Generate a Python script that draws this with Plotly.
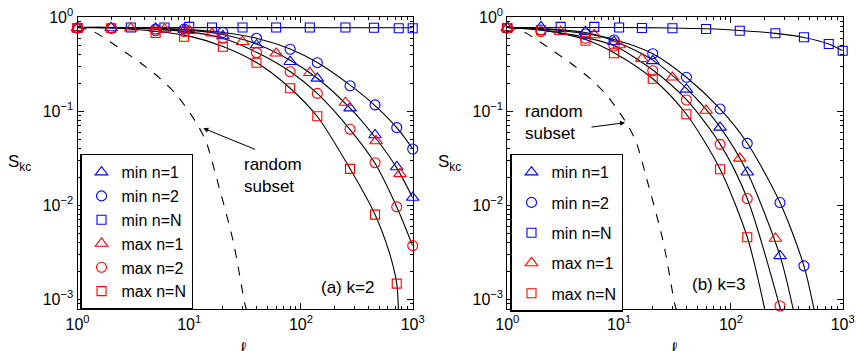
import plotly.graph_objects as go

# ---------------- data ----------------
# panel (a) k=2
l_min_a = [1, 2, 5, 9, 20, 40, 80, 140, 275, 460, 720, 1000]
l_max_a = [1, 3, 6, 10, 16, 30, 60, 120, 250, 470, 770]
l_sq = [1, 3, 6, 10, 16, 30, 60, 120, 250, 450, 750, 1000]

min1_a = [0.77, 0.77, 0.76, 0.74, 0.633, 0.507, 0.337, 0.224, 0.108, 0.056, 0.0256, 0.0121]
min2_a = [0.77, 0.77, 0.75, 0.75, 0.692, 0.598, 0.457, 0.329, 0.187, 0.117, 0.067, 0.0397]
minN_a = [0.77, 0.78, 0.78, 0.79, 0.78, 0.78, 0.78, 0.78, 0.78, 0.775, 0.765, 0.765]
max1_a = [0.77, 0.764, 0.745, 0.72, 0.676, 0.55, 0.414, 0.257, 0.124, 0.0484, 0.0216]
max2_a = [0.77, 0.764, 0.72, 0.703, 0.598, 0.42, 0.264, 0.155, 0.0645, 0.0284, 0.00962, 0.00373]
maxN_a = [0.77, 0.764, 0.681, 0.622, 0.487, 0.329, 0.176, 0.0885, 0.0244, 0.00797, 0.00147]

# fitted curves, panel (a)
fit_l_a = [1, 2, 5, 10, 20, 40, 80, 140, 275, 460, 720, 1000]
fitA_a = [0.78, 0.78, 0.765, 0.74, 0.69, 0.60, 0.46, 0.33, 0.19, 0.115, 0.067, 0.040]
fitB_a = [0.78, 0.78, 0.76, 0.73, 0.655, 0.52, 0.35, 0.225, 0.108, 0.053, 0.025, 0.012]
fitC_a = [0.78, 0.775, 0.745, 0.70, 0.60, 0.425, 0.265, 0.155, 0.064, 0.028, 0.0096, 0.0037]
fitD_l_a = [1, 2, 5, 10, 20, 40, 80, 140, 275, 460, 620, 720, 745]
fitD_a = [0.78, 0.77, 0.71, 0.63, 0.49, 0.33, 0.176, 0.088, 0.0245, 0.0080, 0.0031, 0.00147, 0.00078]
fitH_l_a = [1, 1000]
fitH_a = [0.78, 0.775]

# panel (b) k=3
l_min_b = [1, 2, 5, 9, 20, 40, 80, 140, 275, 450]
l_max_b = [1, 3, 6, 10, 16, 30, 60, 120, 250]

min1_b = [0.77, 0.79, 0.703, 0.55, 0.344, 0.171, 0.0675, 0.0225, 0.0029]
min2_b = [0.77, 0.733, 0.665, 0.573, 0.41, 0.23, 0.106, 0.0456, 0.0107, 0.00227]
minN_b = [0.77, 0.79, 0.79, 0.78, 0.77, 0.765, 0.75, 0.72, 0.676, 0.613, 0.52, 0.44]
max1_b = [0.77, 0.703, 0.648, 0.507, 0.362, 0.23, 0.102, 0.0316, 0.00444]
max2_b = [0.77, 0.703, 0.598, 0.495, 0.27, 0.132, 0.0445, 0.0118, 0.00085]
maxN_b = [0.77, 0.733, 0.564, 0.414, 0.222, 0.093, 0.0242, 0.00458]

# fitted curves, panel (b)
fitA_l_b = [1, 2, 5, 9, 20, 40, 80, 140, 275, 450, 554]
fitA_b = [0.78, 0.75, 0.67, 0.58, 0.41, 0.23, 0.106, 0.046, 0.0107, 0.00227, 0.00078]
fitB_l_b = [1, 2, 5, 9, 20, 40, 80, 140, 275, 361]
fitB_b = [0.78, 0.76, 0.69, 0.56, 0.35, 0.175, 0.068, 0.0225, 0.0029, 0.00078]
fitC_l_b = [1, 2, 5, 9, 20, 40, 80, 140, 278]
fitC_b = [0.78, 0.73, 0.61, 0.50, 0.275, 0.133, 0.045, 0.0118, 0.00078]
fitD_l_b = [1, 2, 5, 9, 20, 40, 80, 140, 201]
fitD_b = [0.78, 0.74, 0.58, 0.42, 0.222, 0.093, 0.0242, 0.0046, 0.00078]
fitH_l_b = [1, 10, 30, 60, 120, 250, 450, 750, 1000]
fitH_b = [0.78, 0.78, 0.77, 0.755, 0.725, 0.675, 0.61, 0.52, 0.44]

# random subset (dashed), same in both panels
rand_l = [1, 1.34, 1.95, 2.76, 3.88, 5.48, 7.73, 10.2, 12.2, 14.3, 17.6, 24.8, 31.6, 32.5]
rand_s = [0.78, 0.72, 0.55, 0.414, 0.311, 0.224, 0.149, 0.0952, 0.068, 0.046, 0.0194, 0.0041, 0.00087, 0.00078]

x_ticks = [1, 10, 100, 1000]
x_ticktext = ["10<sup>0</sup>", "10<sup>1</sup>", "10<sup>2</sup>", "10<sup>3</sup>"]
y_ticks = [1, 0.1, 0.01, 0.001]
y_ticktext = ["10<sup>0</sup>", "10<sup>\u22121</sup>", "10<sup>\u22122</sup>", "10<sup>\u22123</sup>"]

# ---------------- figure ----------------
W, H = 856, 351
FONT = "Liberation Sans, Arial, Helvetica, sans-serif"
BLUE, RED = "#0000ff", "#ff0000"

def px(x):
    return x / W

def py(y):
    return 1 - y / H

fig = go.Figure()

def curve(xs, ys, xa, ya, dash="solid"):
    fig.add_trace(go.Scatter(x=xs, y=ys, mode="lines", xaxis=xa, yaxis=ya,
                             line=dict(color="black", width=1.1, dash=dash, shape="spline", smoothing=0.8),
                             showlegend=False, hoverinfo="skip"))

def marks(xs, ys, xa, ya, name, sym, color, size, legend, show=True, group=None):
    fig.add_trace(go.Scatter(x=xs, y=ys, mode="markers", xaxis=xa, yaxis=ya, name=name,
                             marker=dict(symbol=sym, size=size, color=color,
                                         line=dict(color=color, width=1.1)),
                             cliponaxis=False, legend=legend, showlegend=show,
                             legendgroup=group))

# panel (a)
curve(fitH_l_a, fitH_a, "x", "y")
curve(fit_l_a, fitA_a, "x", "y")
curve(fit_l_a, fitB_a, "x", "y")
curve(fit_l_a, fitC_a, "x", "y")
curve(fitD_l_a, fitD_a, "x", "y")
curve(rand_l, rand_s, "x", "y", dash="dash")
marks(l_min_a, min1_a, "x", "y", "min n=1", "triangle-up-open", BLUE, 11, "legend")
marks(l_min_a, min2_a, "x", "y", "min n=2", "circle-open", BLUE, 10, "legend")
marks(l_sq, minN_a, "x", "y", "min n=N", "square-open", BLUE, 9, "legend")
marks(l_max_a, max1_a, "x", "y", "max n=1", "triangle-up-open", RED, 11, "legend")
marks(l_min_a, max2_a, "x", "y", "max n=2", "circle-open", RED, 10, "legend")
marks(l_min_a[:11], maxN_a, "x", "y", "max n=N", "square-open", RED, 9, "legend")

# panel (b)
curve(fitH_l_b, fitH_b, "x2", "y2")
curve(fitA_l_b, fitA_b, "x2", "y2")
curve(fitB_l_b, fitB_b, "x2", "y2")
curve(fitC_l_b, fitC_b, "x2", "y2")
curve(fitD_l_b, fitD_b, "x2", "y2")
curve(rand_l, rand_s, "x2", "y2", dash="dash")
marks(l_min_b[:9], min1_b, "x2", "y2", "min n=1", "triangle-up-open", BLUE, 11, "legend2", group="b1")
marks(l_min_b, min2_b, "x2", "y2", "min n=2", "circle-open", BLUE, 10, "legend2", group="b2")
marks(l_sq, minN_b, "x2", "y2", "min n=N", "square-open", BLUE, 9, "legend2", group="b3")
marks(l_max_b, max1_b, "x2", "y2", "max n=1", "triangle-up-open", RED, 11, "legend2", group="b4")
marks(l_min_b[:9], max2_b, "x2", "y2", "max n=2", "circle-open", RED, 10, "legend2", show=False, group="b5")
marks(l_min_b[:8], maxN_b, "x2", "y2", "max n=N", "square-open", RED, 9, "legend2", group="b6")

minor_x = [m * d for d in (1, 10, 100) for m in range(2, 10)]
minor_y = [m * d for d in (0.0001, 0.001, 0.01, 0.1) for m in range(2, 10)]

def xax(dom):
    return dict(type="log", domain=dom, range=[0, 3], showline=True, linecolor="black", linewidth=1.1,
                mirror="allticks", ticks="inside", ticklen=6, tickcolor="black", tickwidth=1,
                showgrid=False, zeroline=False, tickvals=x_ticks, ticktext=x_ticktext, automargin=False,
                tickfont=dict(size=16, color="black", family=FONT),
                minor=dict(ticks="inside", ticklen=3, tickcolor="black", tickvals=minor_x, showgrid=False))

def yax(anchor):
    return dict(type="log", domain=[py(309.3), py(17.3)], range=[-3.106, 0], anchor=anchor,
                showline=True, linecolor="black", linewidth=1.1, mirror="allticks", ticks="inside",
                ticklen=6, tickcolor="black", tickwidth=1, showgrid=False, zeroline=False, automargin=False,
                tickvals=y_ticks, ticktext=y_ticktext, tickfont=dict(size=16, color="black", family=FONT),
                minor=dict(ticks="inside", ticklen=3, tickcolor="black", tickvals=minor_y, showgrid=False))

leg_common = dict(xanchor="left", yanchor="top", bordercolor="black", borderwidth=1.5, bgcolor="white",
                  font=dict(size=16, color="black", family=FONT), itemsizing="trace")

fig.update_layout(
    width=W, height=H, margin=dict(l=0, r=0, t=0, b=0, pad=0, autoexpand=False),
    paper_bgcolor="white", plot_bgcolor="white",
    font=dict(family=FONT, color="black"),
    xaxis=xax([px(77.5), px(412.7)]),
    yaxis=yax("x"),
    xaxis2=xax([px(507.3), px(842.7)]),
    yaxis2=yax("x2"),
    legend=dict(x=px(80), y=py(153.7), **leg_common),
    legend2=dict(x=px(510), y=py(153.7), tracegroupgap=6.5, **leg_common),
)

ann = []
def text(x, y, s, size=17, xanchor="center", yanchor="middle", align="center"):
    ann.append(dict(x=px(x), y=py(y), xref="paper", yref="paper", text=s, showarrow=False,
                    xanchor=xanchor, yanchor=yanchor, align=align,
                    font=dict(size=size, color="black", family=FONT)))

text(6, 163, "S<sub>kc</sub>", xanchor="left")
text(436, 163, "S<sub>kc</sub>", xanchor="left")
text(244, 337, "\u2113", yanchor="top")
text(674, 337, "\u2113", yanchor="top")
text(242, 175, "random<br>subset", xanchor="left", align="left")
text(523, 122, "random<br>subset", xanchor="left", align="left")
text(347.5, 287.5, "(a) k=2")
text(718, 284, "(b) k=3")

def arrow(hx, hy, tx, ty):
    ann.append(dict(x=px(hx), y=py(hy), xref="paper", yref="paper", ax=tx - hx, ay=ty - hy,
                    axref="pixel", ayref="pixel", showarrow=True, arrowhead=2, arrowsize=1,
                    arrowwidth=1, arrowcolor="black", text=""))

arrow(203.3, 128.3, 256.7, 150)
arrow(625, 122.7, 590, 127.3)

fig.update_layout(annotations=ann)
fig.write_html("out.html", config={"displayModeBar": False},
               post_script="document.body.style.margin='0';document.body.style.overflow='hidden';")
